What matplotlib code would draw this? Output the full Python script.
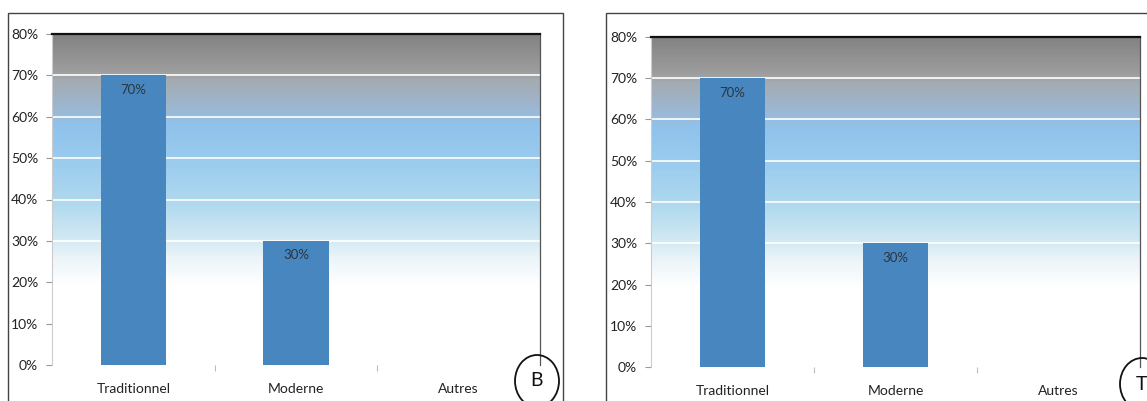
import matplotlib
matplotlib.use("Agg")
import matplotlib.pyplot as plt
import numpy as np
from matplotlib.colors import LinearSegmentedColormap
from matplotlib.patches import Rectangle, Ellipse

# share of each method, same for both sites
categories = ["Traditionnel", "Moderne", "Autres"]
values_b = [0.70, 0.30, 0.0]
values_t = [0.70, 0.30, 0.0]
yticks = [0.0, 0.1, 0.2, 0.3, 0.4, 0.5, 0.6, 0.7, 0.8]
panel_letters = ["B", "T"]

plt.rcParams['font.family'] = ['Lato', 'DejaVu Sans']

W, H = 1147, 401
fig = plt.figure(figsize=(W / 100, H / 100), dpi=100)
fig.patch.set_facecolor("white")

# background ramp: white at the bottom, sky blue in the middle, grey on top
bg = LinearSegmentedColormap.from_list("bg", [
    (0.00, "#ffffff"),
    (0.24, "#ffffff"),
    (0.32, "#ecf5f9"),
    (0.38, "#d3e9f3"),
    (0.48, "#b2daef"),
    (0.60, "#9dcdee"),
    (0.72, "#90c3ec"),
    (0.78, "#9cb7d0"),
    (0.86, "#a4abb2"),
    (0.89, "#9d9d9d"),
    (1.00, "#828282"),
])

bar_color = "#4886c0"


def draw_panel(rect, values, letter, circle_xy):
    ax = fig.add_axes(rect)
    x = np.arange(len(categories))
    ax.set_xlim(-0.5, len(categories) - 0.5)
    ax.set_ylim(0, 0.8)

    grad = np.linspace(0, 1, 256).reshape(-1, 1)
    ax.imshow(grad, aspect="auto", cmap=bg, origin="lower",
              extent=(-0.5, len(categories) - 0.5, 0, 0.8), zorder=0)

    for y in yticks[1:-1]:
        ax.axhline(y, color="white", lw=1.2, zorder=1)

    bars = ax.bar(x, values, width=0.4, color=bar_color, zorder=2)
    for b, v in zip(bars, values):
        if v > 0:
            ax.text(b.get_x() + b.get_width() / 2, v - 0.035, f"{v:.0%}",
                    ha="center", va="center", fontsize=9.5, color="#2b3540",
                    zorder=3)

    ax.set_yticks(yticks)
    ax.set_yticklabels([f"{t:.0%}" for t in yticks], fontsize=10,
                       color="#222222")
    ax.set_xticks(x)
    ax.set_xticklabels(categories, fontsize=10, color="#222222")
    ax.set_xticks([0.5, 1.5], minor=True)
    ax.tick_params(axis="y", length=4, width=0.8, color="#999999", pad=6)
    ax.tick_params(axis="x", which="major", length=0, pad=13)
    ax.tick_params(axis="x", which="minor", length=4, width=0.8,
                   color="#bbbbbb", direction="out", pad=6)

    ax.spines["bottom"].set_visible(False)
    ax.spines["left"].set_color("#cccccc")
    ax.spines["left"].set_linewidth(0.8)
    ax.spines["top"].set_color("#111111")
    ax.spines["top"].set_linewidth(1.6)
    ax.spines["right"].set_color("#555555")
    ax.spines["right"].set_linewidth(0.9)

    cx, cy = circle_xy
    fig.add_artist(Ellipse((cx / W, 1 - cy / H), 44 / W, 52 / H,
                           transform=fig.transFigure, fill=False,
                           edgecolor="#111111", lw=1.3))
    fig.text(cx / W, 1 - cy / H, letter, ha="center", va="center",
             fontsize=14, color="#111111")
    return ax


# outer frames around each chart
fig.add_artist(Rectangle((8 / W, -0.05), 555 / W, 1.05 - 13 / H,
                         transform=fig.transFigure, fill=False,
                         edgecolor="#444444", lw=1.0))
fig.add_artist(Rectangle((606 / W, -0.05), 560 / W, 1.05 - 13 / H,
                         transform=fig.transFigure, fill=False,
                         edgecolor="#444444", lw=1.0))

draw_panel([52 / W, 36 / H, 488 / W, 331 / H], values_b, panel_letters[0],
           (537, 381))
draw_panel([651 / W, 34 / H, 489 / W, 330 / H], values_t, panel_letters[1],
           (1142, 384))

fig.savefig("out.png", dpi=100)
